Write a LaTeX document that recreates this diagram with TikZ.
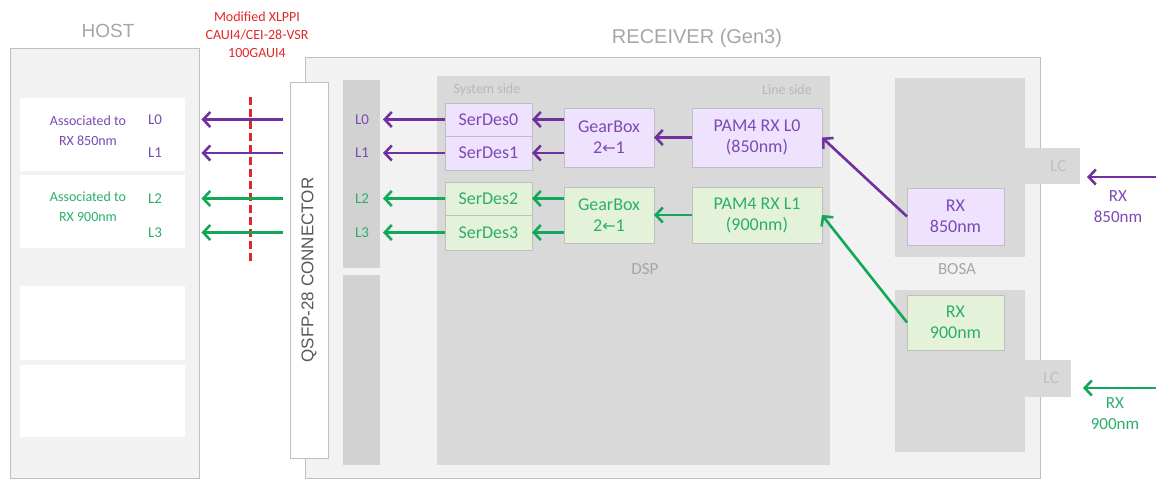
\documentclass[tikz,border=0pt]{standalone}
\usepackage{fontspec}
\setmainfont{Carlito}
\newfontfamily\arialfont{Liberation Sans}
\newfontfamily\arrowfont{DejaVu Sans}
\usetikzlibrary{arrows.meta}

\definecolor{purpA}{HTML}{7030A0}
\definecolor{purpT}{HTML}{7C4AB5}
\definecolor{lav}{HTML}{EEE2FF}
\definecolor{grnA}{HTML}{12A85A}
\definecolor{grnT}{HTML}{2BB068}
\definecolor{mint}{HTML}{E4F2DA}
\definecolor{panel}{HTML}{F2F2F2}
\definecolor{chip}{HTML}{D9D9D9}
\definecolor{lanegray}{HTML}{D2D2D2}
\definecolor{edge}{HTML}{BFBFBF}
\definecolor{title}{HTML}{A6A6A6}
\definecolor{iface}{HTML}{E02828}

\begin{document}
\begin{tikzpicture}[x=1pt, y=-1pt,
    base/.style={inner sep=0pt, outer sep=0pt, anchor=north west},
    panelbox/.style={base, draw=edge, fill=panel, line width=0.8pt},
    chipbox/.style={base, fill=chip},
    pbox/.style={base, draw=edge, fill=lav, text=purpT, align=center, font=\fontsize{18}{21}\selectfont},
    gbox/.style={base, draw=edge, fill=mint, text=grnT, align=center, font=\fontsize{18}{21}\selectfont},
    plabel/.style={text=purpT, font=\fontsize{15}{19}\selectfont, align=center},
    glabel/.style={text=grnT, font=\fontsize{15}{19}\selectfont, align=center},
    greytext/.style={text=title, font=\fontsize{17}{19}\selectfont},
    parr/.style={draw=purpA, line width=2.6pt, -{Straight Barb[length=7pt,width=15pt]}},
    garr/.style={draw=grnA, line width=2.6pt, -{Straight Barb[length=7pt,width=15pt]}}]
    \useasboundingbox (0,0) rectangle (1156,479);

    % host side
    \node[panelbox, minimum width=189, minimum height=430] (host) at (10,48) {};
    \node[base, fill=white, minimum width=165, minimum height=73] (hostA) at (20,98) {};
    \node[base, fill=white, minimum width=165, minimum height=73] (hostB) at (20,175) {};
    \node[base, fill=white, minimum width=165, minimum height=74] (hostC) at (20,286) {};
    \node[base, fill=white, minimum width=165, minimum height=72] (hostD) at (20,365) {};
    \node[text=title, font=\arialfont\fontsize{19}{21}\selectfont] (hosttitle) at (108,31) {HOST};
    \node[plabel, font=\fontsize{14}{20}\selectfont] (assoc0) at (88,131) {Associated to\\RX 850nm};
    \node[glabel, font=\fontsize{14}{20}\selectfont] (assoc1) at (88,207) {Associated to\\RX 900nm};

    % receiver
    \node[panelbox, minimum width=735, minimum height=421] (rcv) at (305,57) {};
    \node[text=title, font=\arialfont\fontsize{20}{22}\selectfont] (rcvtitle) at (697,38) {RECEIVER (Gen3)};
    \node[base, draw=edge, fill=white, line width=0.8pt, minimum width=38, minimum height=376] (qsfp) at (290,82) {};
    \node[rotate=90, text=black!65, font=\arialfont\fontsize{17}{19}\selectfont] (qsfptext) at (qsfp.center) {QSFP-28 CONNECTOR};
    \node[chipbox, fill=lanegray, minimum width=37, minimum height=188] (laneA) at (343,80) {};
    \node[chipbox, fill=lanegray, minimum width=37, minimum height=190] (laneB) at (343,275) {};
    \node[chipbox, minimum width=393, minimum height=389] (dsp) at (437,76) {};
    \node[text=title!80, font=\fontsize{14}{16}\selectfont] (sysside) at (487,90) {System side};
    \node[text=title!80, font=\fontsize{14}{16}\selectfont] (lineside) at (787,90) {Line side};
    \node[greytext] (dsptext) at (645,269) {DSP};

    \node[pbox, minimum width=87, minimum height=33] (sd0) at (445,103) {SerDes0};
    \node[pbox, minimum width=87, minimum height=34] (sd1) at (445,136) {SerDes1};
    \node[gbox, minimum width=87, minimum height=33] (sd2) at (445,182) {SerDes2};
    \node[gbox, minimum width=87, minimum height=35] (sd3) at (445,215) {SerDes3};
    \node[pbox, minimum width=90, minimum height=59] (gb0) at (564,108) {GearBox\\2{\arrowfont\fontsize{16}{18}\selectfont ←}1};
    \node[gbox, minimum width=90, minimum height=56] (gb1) at (564,187) {GearBox\\2{\arrowfont\fontsize{16}{18}\selectfont ←}1};
    \node[pbox, minimum width=130, minimum height=59] (pam0) at (692,108) {PAM4 RX L0\\(850nm)};
    \node[gbox, minimum width=130, minimum height=56] (pam1) at (692,187) {PAM4 RX L1\\(900nm)};

    % bosa
    \node[chipbox, minimum width=130, minimum height=179] (bosaA) at (895,78) {};
    \node[chipbox, minimum width=130, minimum height=162] (bosaB) at (895,290) {};
    \node[greytext] (bosatext) at (957,269) {BOSA};
    \node[chipbox, minimum width=55, minimum height=36, text=edge, font=\fontsize{17}{19}\selectfont] (lc0) at (1025,148) {\hspace*{12pt}LC};
    \node[chipbox, minimum width=46, minimum height=37, text=edge, font=\fontsize{17}{19}\selectfont] (lc1) at (1025,360) {\hspace*{6pt}LC};
    \node[pbox, minimum width=97, minimum height=57] (rx0) at (907,188) {RX\\850nm};
    \node[gbox, minimum width=97, minimum height=55] (rx1) at (907,295) {RX\\900nm};

    % lane labels
    \foreach \n/\s/\c in {0/sd0/plabel, 1/sd1/plabel, 2/sd2/glabel, 3/sd3/glabel} {
        \node[\c] (ll\n) at (362,0 |- \s.west) {L\n};
        \node[\c] (hl\n) at (155,0 |- \s.west) {L\n};
    }

    % interface
    \node[text=iface, font=\fontsize{14}{18}\selectfont, align=center] (ifacetext) at (257,35) {Modified XLPPI\\CAUI4/CEI-28-VSR\\100GAUI4};
    \coordinate (cutA) at (250,97);
    \coordinate (cutB) at (250,262);
    \draw[iface, line width=3pt, dash pattern=on 8pt off 4pt] (cutA) -- (cutB);

    % fibres in
    \coordinate (fib0) at (1156,177);
    \coordinate (fib1) at (1156,388);
    \draw[parr, shorten >=7pt] (fib0) -- (fib0 -| lc0.east);
    \draw[garr, shorten >=12pt] (fib1) -- (fib1 -| lc1.east);
    \node[plabel, font=\fontsize{17}{21}\selectfont] (fibtext0) at (1118,207) {RX\\850nm};
    \node[glabel, font=\fontsize{17}{21}\selectfont] (fibtext1) at (1115,414) {RX\\900nm};

    % signal path
    \draw[parr] (rx0.west) -- (pam0.east);
    \draw[garr] (rx1.west) -- (pam1.east);
    \draw[parr] (pam0.west) -- (gb0.east);
    \draw[garr] (pam1.west) -- (gb1.east);
    \foreach \s/\g/\a in {sd0/gb0/parr, sd1/gb0/parr, sd2/gb1/garr, sd3/gb1/garr} {
        \draw[\a] (\g.west |- \s.east) -- (\s.east);
    }
    \foreach \n/\a in {0/parr, 1/parr, 2/garr, 3/garr} {
        \draw[\a, shorten >=3pt] (sd\n.west) -- (sd\n.west -| laneA.east);
        \draw[\a, shorten <=7pt, shorten >=36pt] (qsfp.west |- hl\n) -- (hl\n.east);
    }
\end{tikzpicture}
\end{document}
